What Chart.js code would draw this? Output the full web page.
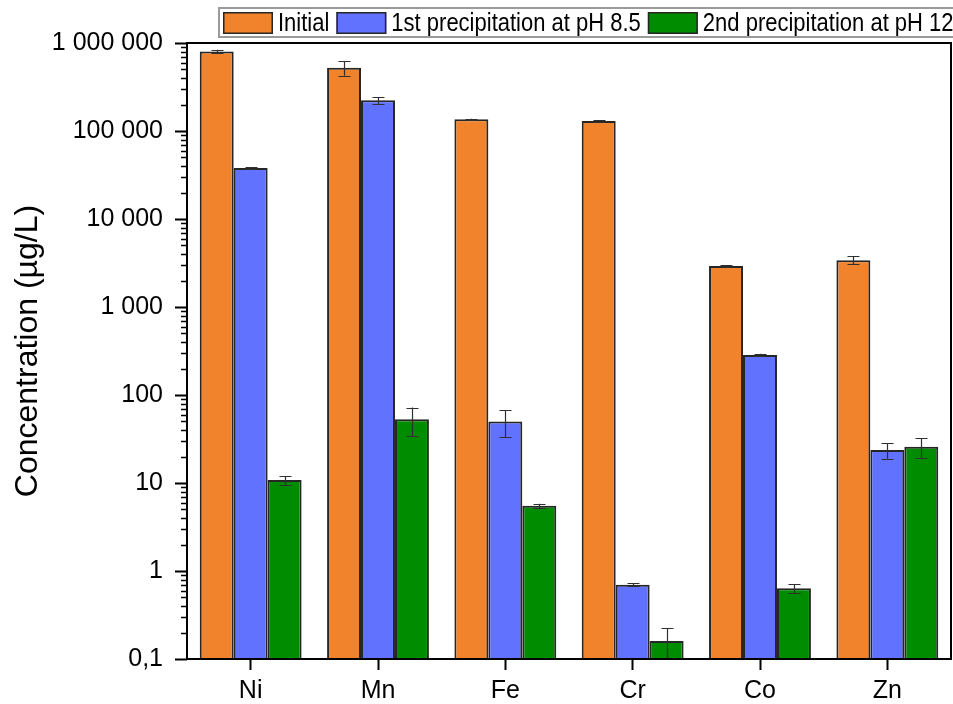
<!DOCTYPE html>
<html>
<head>
<meta charset="utf-8">
<script src="https://cdn.jsdelivr.net/npm/chart.js@4/dist/chart.umd.min.js"></script>
<style>
  html, body { margin: 0; padding: 0; background: #ffffff; }
  #wrap { width: 953px; height: 704px; }
</style>
</head>
<body>
<div id="wrap"><canvas id="chart" width="953" height="704"></canvas></div>
<script>
// Metal concentrations (µg/L) before and after the two precipitation steps
const elements = ['Ni', 'Mn', 'Fe', 'Cr', 'Co', 'Zn'];

const initialValues = [800000, 525000, 136000, 130000, 2920, 3400];
const initialErrors = [40000, 100000, 1500, 2000, 50, 350];

const firstPrecipValues = [38000, 223000, 50, 0.70, 285, 23.7];
const firstPrecipErrors = [800, 21000, 17, 0.03, 10, 4.8];

const secondPrecipValues = [10.8, 53, 5.5, 0.16, 0.635, 25.9];
const secondPrecipErrors = [1.2, 19, 0.3, 0.063, 0.075, 6.5];

const seriesNames = ['Initial', '1st precipitation at pH 8.5', '2nd precipitation at pH 12'];

const yTickValues = [0.1, 1, 10, 100, 1000, 10000, 100000, 1000000];
const yTickLabels = ['0,1', '1', '10', '100', '1 000', '10 000', '100 000', '1 000 000'];

const FONT = 'Liberation Sans, Arial, Helvetica, sans-serif';
const COLORS = ['#F0832B', '#6072FF', '#008C00'];
const EDGE = '#262626';

// Symmetric error bars with caps, positioned through the value scale
const errorBarPlugin = {
  id: 'errorBars',
  afterDatasetsDraw(chart) {
    const ctx = chart.ctx;
    const y = chart.scales.y;
    const area = chart.chartArea;
    ctx.save();
    ctx.strokeStyle = '#303030';
    ctx.lineWidth = 1.2;
    chart.data.datasets.forEach((ds, di) => {
      const meta = chart.getDatasetMeta(di);
      meta.data.forEach((bar, i) => {
        const v = ds.data[i];
        const e = ds.errors[i];
        if (!e) return;
        const top = Math.max(y.getPixelForValue(v + e), area.top);
        const lowVal = v - e;
        const bot = lowVal > y.min ? y.getPixelForValue(lowVal) : area.bottom;
        const x = Math.round(bar.x) + 0.5;
        const cap = 6;
        ctx.beginPath();
        ctx.moveTo(x, top); ctx.lineTo(x, bot);
        ctx.moveTo(x - cap, Math.round(top) + 0.5); ctx.lineTo(x + cap, Math.round(top) + 0.5);
        if (lowVal > y.min) {
          ctx.moveTo(x - cap, Math.round(bot) + 0.5); ctx.lineTo(x + cap, Math.round(bot) + 0.5);
        }
        ctx.stroke();
      });
    });
    ctx.restore();
  }
};

// Minor log ticks, the closed frame and the boxed legend on top
const framePlugin = {
  id: 'frameAndLegend',
  afterDraw(chart) {
    const ctx = chart.ctx;
    const a = chart.chartArea;
    const y = chart.scales.y;
    ctx.save();

    // minor ticks (2..9 of each decade), outside the left axis
    ctx.strokeStyle = '#000';
    ctx.lineWidth = 1.5;
    ctx.beginPath();
    for (let d = -1; d < 6; d++) {
      for (let k = 2; k <= 9; k++) {
        const py = Math.round(y.getPixelForValue(k * Math.pow(10, d))) + 0.5;
        ctx.moveTo(a.left - 6, py);
        ctx.lineTo(a.left, py);
      }
    }
    ctx.stroke();

    // frame
    ctx.lineWidth = 2;
    ctx.strokeStyle = '#000';
    ctx.strokeRect(a.left, a.top, a.right - a.left, a.bottom - a.top);

    // legend
    ctx.lineWidth = 2;
    ctx.strokeStyle = '#9a9a9a';
    ctx.strokeRect(219, 8, 745, 29);
    ctx.font = '22px ' + FONT;
    ctx.textBaseline = 'middle';
    ctx.textAlign = 'left';
    let x = 223;
    chart.data.datasets.forEach((ds) => {
      ctx.fillStyle = ds.backgroundColor;
      ctx.fillRect(x, 12, 50, 22);
      ctx.lineWidth = 1.5;
      ctx.strokeStyle = EDGE;
      ctx.strokeRect(x + 0.75, 12.75, 48.5, 20.5);
      x += 55;
      ctx.fillStyle = '#000';
      // slightly tall lettering
      ctx.save();
      ctx.translate(x, 24);
      ctx.scale(1, 1.15);
      ctx.fillText(ds.label, 0, 0);
      ctx.restore();
      x += ctx.measureText(ds.label).width + 7;
    });
    ctx.restore();
  }
};

const makeSet = (i, values, errors) => ({
  label: seriesNames[i],
  data: values,
  errors: errors,
  backgroundColor: COLORS[i],
  borderColor: EDGE,
  borderWidth: 2,
  borderSkipped: 'start',
  categoryPercentage: 0.8,
  barPercentage: 1.0
});

new Chart(document.getElementById('chart'), {
  type: 'bar',
  data: {
    labels: elements,
    datasets: [
      makeSet(0, initialValues, initialErrors),
      makeSet(1, firstPrecipValues, firstPrecipErrors),
      makeSet(2, secondPrecipValues, secondPrecipErrors)
    ]
  },
  options: {
    responsive: false,
    animation: false,
    layout: { padding: { top: 43, right: 2, left: 0, bottom: 0 } },
    plugins: {
      legend: { display: false },
      tooltip: { enabled: false }
    },
    scales: {
      x: {
        afterFit(scale) { scale.height = 45; },
        border: { display: false },
        grid: {
          display: true,
          drawOnChartArea: false,
          offset: false,
          tickLength: 11,
          tickWidth: 2,
          tickColor: '#000'
        },
        ticks: {
          color: '#000',
          padding: 6,
          font: { family: FONT, size: 25 }
        }
      },
      y: {
        type: 'logarithmic',
        min: 0.1,
        max: 1000000,
        afterFit(scale) { scale.width = 187; },
        afterBuildTicks(scale) {
          scale.ticks = yTickValues.map(v => ({ value: v, major: true }));
        },
        border: { display: false },
        grid: {
          display: true,
          drawOnChartArea: false,
          tickLength: 12,
          tickWidth: 2,
          tickColor: '#000'
        },
        ticks: {
          autoSkip: false,
          color: '#000',
          padding: 12,
          font: { family: FONT, size: 25 },
          callback(value) {
            const idx = yTickValues.findIndex(t => Math.abs(Math.log10(t) - Math.log10(value)) < 1e-6);
            return idx >= 0 ? yTickLabels[idx] : null;
          }
        },
        title: {
          display: true,
          text: 'Concentration (µg/L)',
          color: '#000',
          font: { family: FONT, size: 32 },
          padding: { top: 9, bottom: 0 }
        }
      }
    }
  },
  plugins: [errorBarPlugin, framePlugin]
});
</script>
</body>
</html>
